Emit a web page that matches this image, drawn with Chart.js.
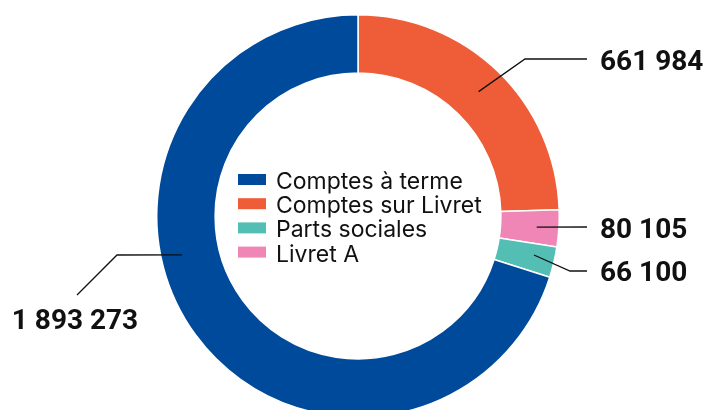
<!DOCTYPE html>
<html>
<head>
<meta charset="utf-8">
<script src="https://cdn.jsdelivr.net/npm/chart.js@4.4.1/dist/chart.umd.min.js"></script>
<style>
  html, body { margin: 0; padding: 0; background: #fff; overflow: hidden; }
  #wrap { position: relative; width: 704px; height: 432px; }
</style>
</head>
<body>
<div id="wrap"><canvas id="donut"></canvas></div>
<script>
// slices, clockwise from 12 o'clock
const labels = ['Comptes sur Livret', 'Livret A', 'Parts sociales', 'Comptes à terme'];
const values = [661984, 80105, 66100, 1893273];
const valueLabels = ['661 984', '80 105', '66 100', '1 893 273'];
const colors = ['#ee5d37', '#ef86b6', '#53beb4', '#004a9b'];
const legendOrder = ['Comptes à terme', 'Comptes sur Livret', 'Parts sociales', 'Livret A'];

// leader lines: anchor inside slice (fraction along arc / ring), then path offsets from centre
const callouts = [
  { at: 0.5,  rf: 0.52, path: [[167, -157], [229, -157]], text: [242, -146], align: 'left' },
  { at: 0.5,  rf: 0.62, path: [[229, 11]],                text: [242, 22],   align: 'left' },
  { at: 0.41, rf: 0.64, path: [[212, 55], [229, 55]],     text: [242, 65],   align: 'left' },
  { at: 0.594, rf: 0.64, path: [[-241, 39], [-281, 79]],  text: [-283, 113], align: 'center' }
];

const calloutPlugin = {
  id: 'callouts',
  afterDatasetsDraw(chart) {
    const ctx = chart.ctx;
    const meta = chart.getDatasetMeta(0);
    const cx = meta.data[0].x, cy = meta.data[0].y;
    ctx.save();
    meta.data.forEach((arc, i) => {
      const c = callouts[i];
      const p = arc.getProps(['startAngle', 'endAngle', 'innerRadius', 'outerRadius'], true);
      const a = p.startAngle + (p.endAngle - p.startAngle) * c.at;
      const r = p.innerRadius + (p.outerRadius - p.innerRadius) * c.rf;
      ctx.beginPath();
      ctx.moveTo(cx + r * Math.cos(a), cy + r * Math.sin(a));
      c.path.forEach(pt => ctx.lineTo(cx + pt[0], cy + pt[1]));
      ctx.strokeStyle = '#111';
      ctx.lineWidth = 1.3;
      ctx.stroke();

      ctx.font = 'bold 28px Roboto';
      ctx.fillStyle = '#111';
      ctx.textAlign = c.align;
      ctx.textBaseline = 'alphabetic';
      ctx.fillText(valueLabels[i], cx + c.text[0], cy + c.text[1]);
    });

    // legend in the hole
    ctx.font = '23px Inter';
    ctx.textAlign = 'left';
    legendOrder.forEach((name, k) => {
      const idx = labels.indexOf(name);
      const base = cy - 27 + k * 24.2;
      ctx.fillStyle = colors[idx];
      ctx.fillRect(cx - 120, base - 15, 28, 11);
      ctx.fillStyle = '#111';
      ctx.fillText(name, cx - 82, base);
    });
    ctx.restore();
  }
};

new Chart(document.getElementById('donut'), {
  type: 'doughnut',
  data: {
    labels: labels,
    datasets: [{
      data: values,
      backgroundColor: colors,
      borderColor: '#ffffff',
      borderWidth: 1.5,
      hoverOffset: 0
    }]
  },
  options: {
    responsive: true,
    maintainAspectRatio: false,
    animation: false,
    cutout: '71%',
    layout: { padding: { left: 12, top: 14, bottom: 14, right: 0 } },
    plugins: {
      legend: { display: false },
      tooltip: { enabled: false }
    }
  },
  plugins: [calloutPlugin]
});
</script>
</body>
</html>
